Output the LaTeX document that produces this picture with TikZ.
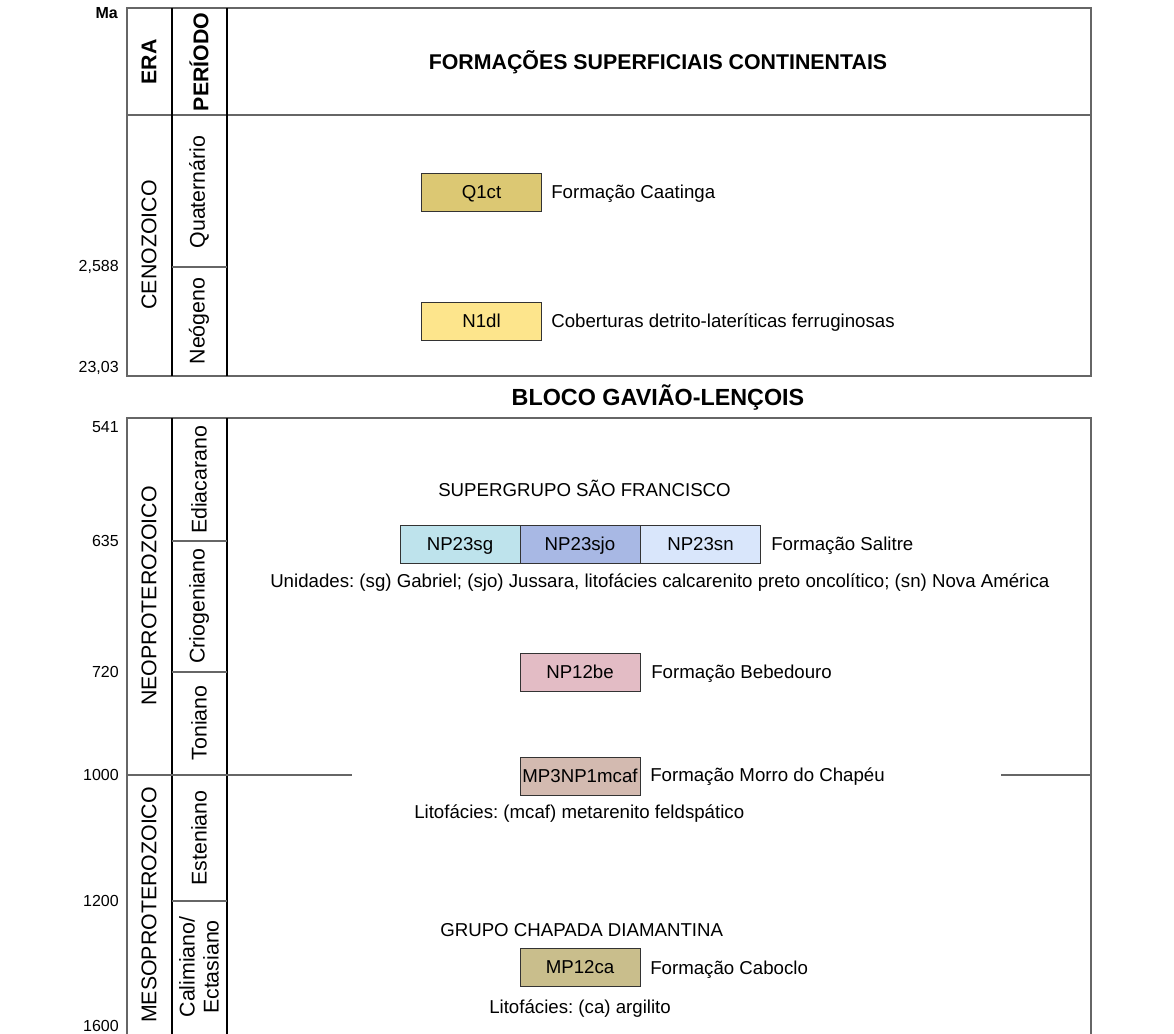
\documentclass[tikz,border=0pt]{standalone}
\usepackage{fontspec}
\setmainfont{Liberation Sans}
\usetikzlibrary{positioning}
\frenchspacing

\definecolor{qct}{RGB}{220,200,115}
\definecolor{ndl}{RGB}{253,229,140}
\definecolor{nsg}{RGB}{190,227,236}
\definecolor{nsjo}{RGB}{168,184,228}
\definecolor{nsn}{RGB}{217,230,251}
\definecolor{nbe}{RGB}{227,188,197}
\definecolor{mcaf}{RGB}{211,186,176}
\definecolor{mca}{RGB}{201,190,140}

\tikzset{
  frame/.style={draw=black!60, line width=0.9pt},
  col/.style={draw=black, line width=0.9pt},
  unit/.style={draw=black!80, line width=0.7pt, minimum width=90pt, minimum height=28.5pt,
    inner sep=0pt, text height=10pt, text depth=0pt, font=\fontsize{14}{16}\selectfont},
  txt/.style={anchor=west, inner sep=0pt, text height=10pt, text depth=0pt,
    font=\fontsize{14}{16}\selectfont},
  age/.style={anchor=east, inner sep=0pt, font=\fontsize{12}{14}\selectfont},
  vert/.style={rotate=90, inner sep=0pt, align=center, font=\fontsize{16}{18}\selectfont},
  title/.style={inner sep=0pt, font=\bfseries\fontsize{16}{18}\selectfont}
}

\begin{document}
\begin{tikzpicture}[x=0.75pt,y=-0.75pt]
\useasboundingbox (0,0) rectangle (1174,1034);

% upper chart
\draw[frame] (127,8) rectangle (1091,376);
\draw[frame] (127,115) -- (1091,115);
\draw[col] (172,8) -- (172,376);
\draw[col] (227,8) -- (227,376);
\draw[frame] (172,267) -- (227,267);

\node[age, font=\bfseries\fontsize{12}{14}\selectfont] (ma) at (118,13) {Ma};
\node[age] (a2588) at (119,267) {2,588};
\node[age] (a2303) at (119,368) {23,03};

\node[vert, font=\bfseries\fontsize{16}{18}\selectfont] (era) at (149,62) {ERA};
\node[vert, font=\bfseries\fontsize{16}{18}\selectfont] (per) at (199,62) {PERÍODO};
\node[title] (fsc) at (658,62) {FORMAÇÕES SUPERFICIAIS CONTINENTAIS};

\node[vert] (ceno) at (149,245) {CENOZOICO};
\node[vert] (quat) at (199,192) {Quaternário};
\node[vert] (neog) at (199,321) {Neógeno};

\node[unit, fill=qct] (q1ct) at (481.5,192) {Q1ct};
\node[txt] (q1ctl) at (551,192) {Formação Caatinga};
\node[unit, fill=ndl] (n1dl) at (481.5,321) {N1dl};
\node[txt] (n1dll) at (551,321) {Coberturas detrito-lateríticas ferruginosas};

% lower chart
\node[title, font=\bfseries\fontsize{17.5}{20}\selectfont] (bloco) at (658,398) {BLOCO GAVIÃO-LENÇOIS};

\draw[frame] (127,1034) -- (127,418) -- (1091,418) -- (1091,1034);
\draw[col] (172,418) -- (172,1034);
\draw[col] (227,418) -- (227,1034);
\draw[frame] (172,541) -- (227,541);
\draw[frame] (172,672) -- (227,672);
\draw[frame] (172,901) -- (227,901);
\draw[frame] (127,775) -- (352,775);
\draw[frame] (1001,775) -- (1091,775);

\node[age] (a541) at (119,427) {541};
\node[age] (a635) at (119,541) {635};
\node[age] (a720) at (119,672) {720};
\node[age] (a1000) at (119,775) {1000};
\node[age] (a1200) at (119,901) {1200};
\node[age] (a1600) at (119,1026) {1600};

\node[vert] (neo) at (149,596) {NEOPROTEROZOICO};
\node[vert] (edia) at (199,480) {Ediacarano};
\node[vert] (crio) at (199,606) {Criogeniano};
\node[vert] (toni) at (199,723) {Toniano};
\node[vert] (meso) at (149,905) {MESOPROTEROZOICO};
\node[vert] (este) at (199,838) {Esteniano};
\node[vert] (cali) at (199,967) {Calimiano/\\Ectasiano};

\node[txt] (sgsf) at (438,490) {SUPERGRUPO SÃO FRANCISCO};
\node[unit, fill=nsg] (sg) at (460,544) {NP23sg};
\node[unit, fill=nsjo] (sjo) at (580,544) {NP23sjo};
\node[unit, fill=nsn] (sn) at (700.5,544) {NP23sn};
\node[txt] (sal) at (771,544) {Formação Salitre};
\node[txt] (unid) at (270,581) {Unidades: (sg) Gabriel; (sjo) Jussara, litofácies calcarenito preto oncolítico; (sn) Nova América};

\node[unit, fill=nbe] (be) at (580,672) {NP12be};
\node[txt] (bel) at (651,672) {Formação Bebedouro};

\node[unit, fill=mcaf] (mc) at (580,776) {MP3NP1mcaf};
\node[txt] (mcl) at (650,775) {Formação Morro do Chapéu};
\node[txt] (mclit) at (414,812) {Litofácies: (mcaf) metarenito feldspático};

\node[txt] (gcd) at (440,930) {GRUPO CHAPADA DIAMANTINA};
\node[unit, fill=mca] (ca) at (580,967) {MP12ca};
\node[txt] (cal) at (650,968) {Formação Caboclo};
\node[txt] (calit) at (489,1007) {Litofácies: (ca) argilito};
\end{tikzpicture}
\end{document}
